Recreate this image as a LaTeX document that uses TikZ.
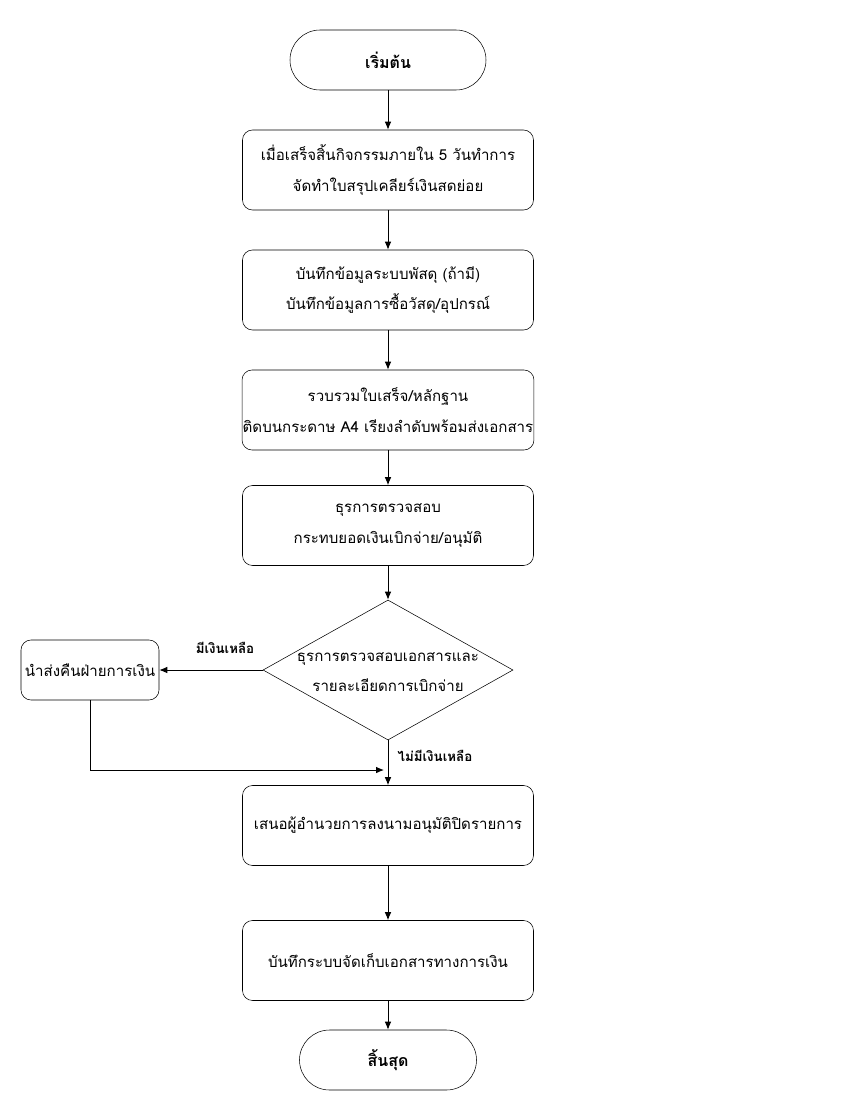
\documentclass[tikz,border=0pt]{standalone}
\usepackage{fontspec}
\newfontfamily\thaifont[Script=Thai]{Loma}
\usetikzlibrary{shapes.geometric, arrows.meta}
\tikzset{
	every node/.style = {font = \thaifont\fontsize{11.3}{23}\selectfont},
	process/.style = {draw, rounded corners = 7.5pt, align = center, minimum width = 218.25pt, minimum height = 60pt, inner sep = 0.5pt},
	terminal/.style = {draw, rounded corners = 22.5pt, minimum height = 45pt, font = \thaifont\bfseries\fontsize{12}{23}\selectfont},
	decision/.style = {draw, diamond, minimum width = 187.5pt, minimum height = 105pt, inner sep = 0pt},
	flow/.style = {-{Latex[length = 6pt, width = 5pt]}, line width = 0.75pt},
	cond/.style = {font = \thaifont\bfseries\fontsize{10}{12}\selectfont},
}

\begin{document}
\begin{tikzpicture}[x = 0.75pt, y = -0.75pt]
			\def\cx{388};

			\useasboundingbox (0,0) rectangle (850,1100);

			\begin{scope}
				\node[terminal, minimum width = 147pt] (start) at (\cx,60) {เริ่มต้น};
				\node[process] (sum) at (\cx,170) {เมื่อเสร็จสิ้นกิจกรรมภายใน 5 วันทำการ\\จัดทำใบสรุปเคลียร์เงินสดย่อย};
				\node[process] (rec) at (\cx,290) {บันทึกข้อมูลระบบพัสดุ (ถ้ามี)\\บันทึกข้อมูลการซื้อวัสดุ/อุปกรณ์};
				\node[process] (doc) at (\cx,410) {รวบรวมใบเสร็จ/หลักฐาน\\ติดบนกระดาษ A4 เรียงลำดับพร้อมส่งเอกสาร};
				\node[process] (chkpay) at (\cx,525.5) {ธุรการตรวจสอบ\\กระทบยอดเงินเบิกจ่าย/อนุมัติ};
				\node[decision] (chk) at (\cx,670) {};
				\node[align = center] (chktext) at (\cx,672) {ธุรการตรวจสอบเอกสารและ\\รายละเอียดการเบิกจ่าย};
				\node[process, minimum width = 103.5pt, minimum height = 45pt] (back) at (90,670) {นำส่งคืนฝ่ายการเงิน};
				\node[process] (sign) at (\cx,825.5) {เสนอผู้อำนวยการลงนามอนุมัติปิดรายการ};
				\node[process] (file) at (\cx,960.5) {บันทึกระบบจัดเก็บเอกสารทางการเงิน};
				\node[terminal, minimum width = 132.75pt] (stop) at (\cx,1060) {สิ้นสุด};
				\coordinate (join) at (384,770);
			\end{scope}

			\begin{scope}
				\draw[flow] (start) -- (sum);
				\draw[flow] (sum) -- (rec);
				\draw[flow] (rec) -- (doc);
				\draw[flow] (doc) -- (chkpay);
				\draw[flow] (chkpay) -- (chk);
				\draw[flow] (chk.west) -- (back.east);
				\draw[flow] (chk.south) -- (sign.north);
				\draw[flow] (back.south) |- (join);
				\draw[flow] (sign) -- (file);
				\draw[flow] (file) -- (stop);

				\node[cond] (yes) at (225,648) {มีเงินเหลือ};
				\node[cond] (no) at (435,756) {ไม่มีเงินเหลือ};
			\end{scope}
		\end{tikzpicture}
\end{document}
